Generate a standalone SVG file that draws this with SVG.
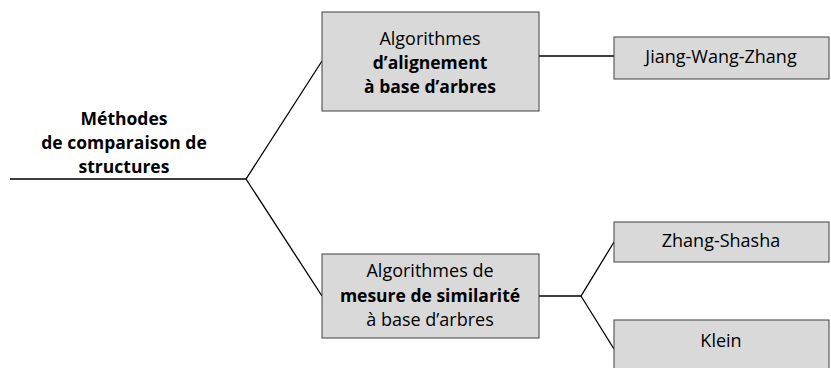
<svg xmlns="http://www.w3.org/2000/svg" width="831" height="368" viewBox="0 0 831 368">
<style>
.box{fill:#d9d9d9;stroke:#404040;stroke-width:1}
.ln{fill:none;stroke:#000;stroke-width:1.3}
text{font-family:"Open Sans","Liberation Sans",sans-serif;font-size:18px;fill:#000;text-anchor:middle}
.b{font-weight:bold;font-size:17.5px}
</style>
<rect width="831" height="368" fill="#fff"/>
<g id="connectors">
<path class="ln" d="M10 179 H246 L322 61 M246 179 L322 296"/>
<path class="ln" d="M539 56 H614"/>
<path class="ln" d="M539 296 H581 L614 242 M581 296 L614 349"/>
</g>
<g id="root">
<text class="b" x="124" y="125">Méthodes</text>
<text class="b" x="124" y="149">de comparaison de</text>
<text class="b" x="124" y="173">structures</text>
</g>
<g id="align">
<rect class="box" x="322" y="12" width="217" height="99"/>
<text x="430" y="45">Algorithmes</text>
<text class="b" x="430" y="69">d’alignement</text>
<text class="b" x="430" y="93">à base d’arbres</text>
</g>
<g id="jwz">
<rect class="box" x="614" y="37" width="215" height="42"/>
<text x="721" y="63">Jiang-Wang-Zhang</text>
</g>
<g id="mesure">
<rect class="box" x="322" y="254" width="217" height="84"/>
<text x="430" y="277">Algorithmes de</text>
<text class="b" x="430" y="302">mesure de similarité</text>
<text x="430" y="326">à base d’arbres</text>
</g>
<g id="zs">
<rect class="box" x="614" y="222" width="215" height="40"/>
<text x="721" y="247">Zhang-Shasha</text>
</g>
<g id="klein">
<rect class="box" x="614" y="320" width="215" height="50"/>
<text x="721" y="347">Klein</text>
</g>
</svg>
